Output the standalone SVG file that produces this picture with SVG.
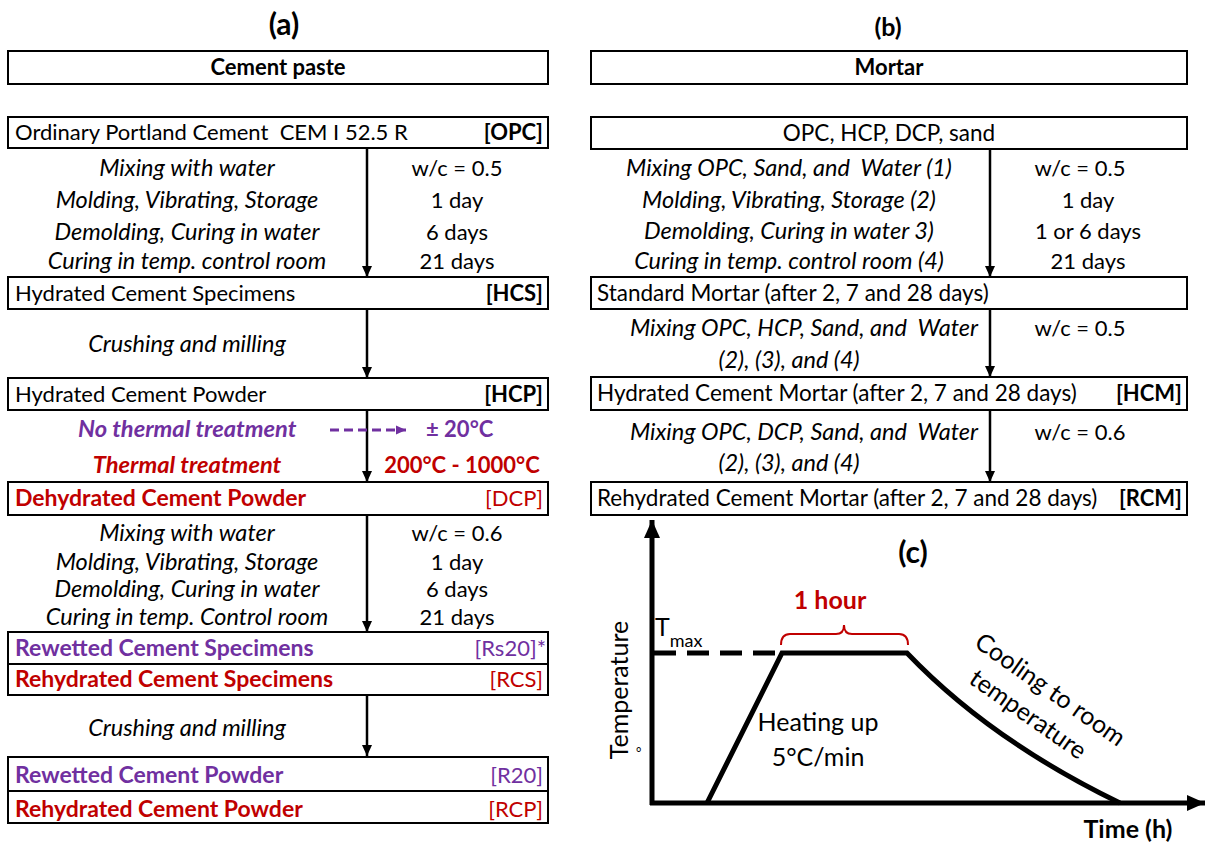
<svg xmlns="http://www.w3.org/2000/svg" width="1207" height="843" viewBox="0 0 1207 843">
<defs>
<style>
text{font-family:Lato,"Liberation Sans",sans-serif;font-size:22px;fill:#000}
.b{font-weight:bold}
.i{font-style:italic;font-size:23.5px}
.bi{font-style:italic;font-weight:bold;font-size:23.7px}
.bn{font-weight:bold;font-size:23px}
.r{font-size:22.5px}
.m{text-anchor:middle}
.e{text-anchor:end}
.pu{fill:#7030A0}
.rd{fill:#C00000}
.box{fill:#fff;stroke:#000;stroke-width:2}
.arr{stroke:#000;stroke-width:2.5;fill:none}
.ttl{font-size:30px;font-weight:bold}
.ch{font-size:25px}
.crv{stroke:#000;stroke-width:5;fill:none}
</style>
<marker id="ah" markerUnits="userSpaceOnUse" markerWidth="12" markerHeight="12" refX="11" refY="6" orient="auto">
<path d="M0,1 L11,6 L0,11 z" fill="#000"/>
</marker>
<marker id="ahp" markerUnits="userSpaceOnUse" markerWidth="12" markerHeight="12" refX="10" refY="6" orient="auto">
<path d="M0,1.5 L10,6 L0,10.5 z" fill="#7030A0"/>
</marker>
<marker id="ahb" markerUnits="userSpaceOnUse" markerWidth="20" markerHeight="20" refX="18" refY="10" orient="auto">
<path d="M0,2 L18,10 L0,18 z" fill="#000"/>
</marker>
</defs>
<rect width="1207" height="843" fill="#fff"/>

<text class="ttl m" x="284" y="35">(a)</text>
<text class="m b" x="888" y="36" style="font-size:25px">(b)</text>

<g id="connectors">
<line class="arr" x1="367" y1="148" x2="367" y2="277" marker-end="url(#ah)"/>
<line class="arr" x1="367" y1="309" x2="367" y2="378" marker-end="url(#ah)"/>
<line class="arr" x1="367" y1="410" x2="367" y2="482" marker-end="url(#ah)"/>
<line class="arr" x1="367" y1="515" x2="367" y2="632" marker-end="url(#ah)"/>
<line class="arr" x1="367" y1="695" x2="367" y2="756" marker-end="url(#ah)"/>
<line x1="330" y1="430" x2="406" y2="430" stroke="#7030A0" stroke-width="3" stroke-dasharray="9 5" marker-end="url(#ahp)"/>
<line class="arr" x1="990" y1="149" x2="990" y2="277" marker-end="url(#ah)"/>
<line class="arr" x1="990" y1="309" x2="990" y2="377" marker-end="url(#ah)"/>
<line class="arr" x1="990" y1="410" x2="990" y2="482" marker-end="url(#ah)"/>
</g>

<g id="n-cement-paste"><rect class="box" x="8" y="51" width="540" height="33"/><text class="b m" x="278" y="75">Cement paste</text></g>
<g id="n-opc"><rect class="box" x="8" y="117" width="540" height="31"/><text x="15" y="140" xml:space="preserve">Ordinary Portland Cement  CEM I 52.5 R</text><text class="b e" x="543" y="140">[OPC]</text></g>
<g id="s1">
<text class="i m" x="187" y="176">Mixing with water</text>
<text class="i m" x="187" y="208">Molding, Vibrating, Storage</text>
<text class="i m" x="187" y="240">Demolding, Curing in water</text>
<text class="i m" x="187" y="269">Curing in temp. control room</text>
<text class="m" x="457" y="176">w/c = 0.5</text>
<text class="m" x="457" y="208">1 day</text>
<text class="m" x="457" y="240">6 days</text>
<text class="m" x="457" y="269">21 days</text>
</g>
<g id="n-hcs"><rect class="box" x="8" y="277" width="540" height="32"/><text x="15" y="301">Hydrated Cement Specimens</text><text class="b e" x="543" y="301">[HCS]</text></g>
<g id="s2"><text class="i m" x="187" y="352">Crushing and milling</text></g>
<g id="n-hcp"><rect class="box" x="8" y="378" width="540" height="32"/><text x="15" y="402">Hydrated Cement Powder</text><text class="b e" x="543" y="402">[HCP]</text></g>
<g id="s3">
<text class="bi pu" x="78" y="437">No thermal treatment</text>
<text class="b pu" x="426" y="437">± 20°C</text>
<text class="bi rd m" x="187" y="473">Thermal treatment</text>
<text class="b rd m" x="462" y="473">200°C - 1000°C</text>
</g>
<g id="n-dcp"><rect class="box" x="8" y="482" width="540" height="33"/><text class="bn rd" x="15" y="506">Dehydrated Cement Powder</text><text class="rd e" x="543" y="506">[DCP]</text></g>
<g id="s4">
<text class="i m" x="187" y="541">Mixing with water</text>
<text class="i m" x="187" y="570">Molding, Vibrating, Storage</text>
<text class="i m" x="187" y="597">Demolding, Curing in water</text>
<text class="i m" x="187" y="625">Curing in temp. Control room</text>
<text class="m" x="457" y="541">w/c = 0.6</text>
<text class="m" x="457" y="570">1 day</text>
<text class="m" x="457" y="597">6 days</text>
<text class="m" x="457" y="625">21 days</text>
</g>
<g id="n-rs20-rcs"><rect class="box" x="8" y="632" width="540" height="63"/><line x1="8" y1="664" x2="548" y2="664" stroke="#000" stroke-width="2"/>
<text class="bn pu" x="15" y="656">Rewetted Cement Specimens</text><text class="pu e" x="546" y="656">[Rs20]*</text>
<text class="bn rd" x="15" y="687">Rehydrated Cement Specimens</text><text class="rd e" x="543" y="687">[RCS]</text></g>
<g id="s5"><text class="i m" x="187" y="736">Crushing and milling</text></g>
<g id="n-r20-rcp"><rect class="box" x="8" y="757" width="540" height="66"/><line x1="8" y1="791" x2="548" y2="791" stroke="#000" stroke-width="2"/>
<text class="bn pu" x="15" y="783">Rewetted Cement Powder</text><text class="pu e" x="543" y="783">[R20]</text>
<text class="bn rd" x="15" y="817">Rehydrated Cement Powder</text><text class="rd e" x="543" y="817">[RCP]</text></g>

<g id="n-mortar"><rect class="box" x="591" y="51" width="596" height="33"/><text class="b m" x="889" y="75">Mortar</text></g>
<g id="n-mix"><rect class="box" x="591" y="117" width="596" height="32"/><text class="r m" x="889" y="141">OPC, HCP, DCP, sand</text></g>
<g id="s6">
<text class="i m" x="789" y="176" xml:space="preserve">Mixing OPC, Sand, and  Water (1)</text>
<text class="i m" x="789" y="208">Molding, Vibrating, Storage (2)</text>
<text class="i m" x="789" y="239">Demolding, Curing in water 3)</text>
<text class="i m" x="789" y="269">Curing in temp. control room (4)</text>
<text class="m" x="1080" y="176">w/c = 0.5</text>
<text class="m" x="1088" y="208">1 day</text>
<text class="m" x="1088" y="239">1 or 6 days</text>
<text class="m" x="1088" y="269">21 days</text>
</g>
<g id="n-standard"><rect class="box" x="591" y="277" width="596" height="32"/><text class="r" x="597" y="301">Standard Mortar (after 2, 7 and 28 days)</text></g>
<g id="s7">
<text class="i m" x="804" y="336" xml:space="preserve">Mixing OPC, HCP, Sand, and  Water</text>
<text class="i m" x="789" y="368">(2), (3), and (4)</text>
<text class="m" x="1080" y="336">w/c = 0.5</text>
</g>
<g id="n-hcm"><rect class="box" x="591" y="377" width="596" height="33"/><text class="r" x="597" y="401">Hydrated Cement Mortar (after 2, 7 and 28 days)</text><text class="b e" x="1182" y="401">[HCM]</text></g>
<g id="s8">
<text class="i m" x="804" y="440" xml:space="preserve">Mixing OPC, DCP, Sand, and  Water</text>
<text class="i m" x="789" y="471">(2), (3), and (4)</text>
<text class="m" x="1080" y="440">w/c = 0.6</text>
</g>
<g id="n-rcm"><rect class="box" x="591" y="482" width="596" height="33"/><text class="r" x="597" y="506">Rehydrated Cement Mortar (after 2, 7 and 28 days)</text><text class="b e" x="1182" y="506">[RCM]</text></g>

<g id="chart">
<line class="crv" x1="652" y1="805" x2="652" y2="520" marker-end="url(#ahb)" stroke-width="4"/>
<line class="crv" x1="650" y1="803" x2="1205" y2="803" marker-end="url(#ahb)" stroke-width="4"/>
<line x1="654" y1="653" x2="782" y2="653" stroke="#000" stroke-width="5" stroke-dasharray="22 11"/>
<path class="crv" d="M707,803 L782,653 H907 Q990,740 1120,803"/>
<path d="M781,645 Q781,634 790,634 H836 Q844,634 844,625 Q844,634 852,634 H899 Q908,634 908,645" fill="none" stroke="#C00000" stroke-width="2"/>
<text class="ttl m" x="913" y="563">(c)</text>
<text class="b rd m" x="830" y="609" style="font-size:25px">1 hour</text>
<text class="ch" x="655" y="636">T<tspan dy="11" style="font-size:18px">max</tspan></text>
<text class="ch m" transform="translate(628,690) rotate(-90)">Temperature</text>
<text x="636" y="757" style="font-size:13px">°</text>
<text class="ch m" x="818" y="731">Heating up</text>
<text class="ch m" x="818" y="766">5°C/min</text>
<text class="ch m" transform="translate(1050,690) rotate(35)"><tspan x="0" y="8">Cooling to room</tspan><tspan x="-4" y="41">temperature</tspan></text>
<text class="ch b m" x="1128" y="838">Time (h)</text>
</g>
</svg>
